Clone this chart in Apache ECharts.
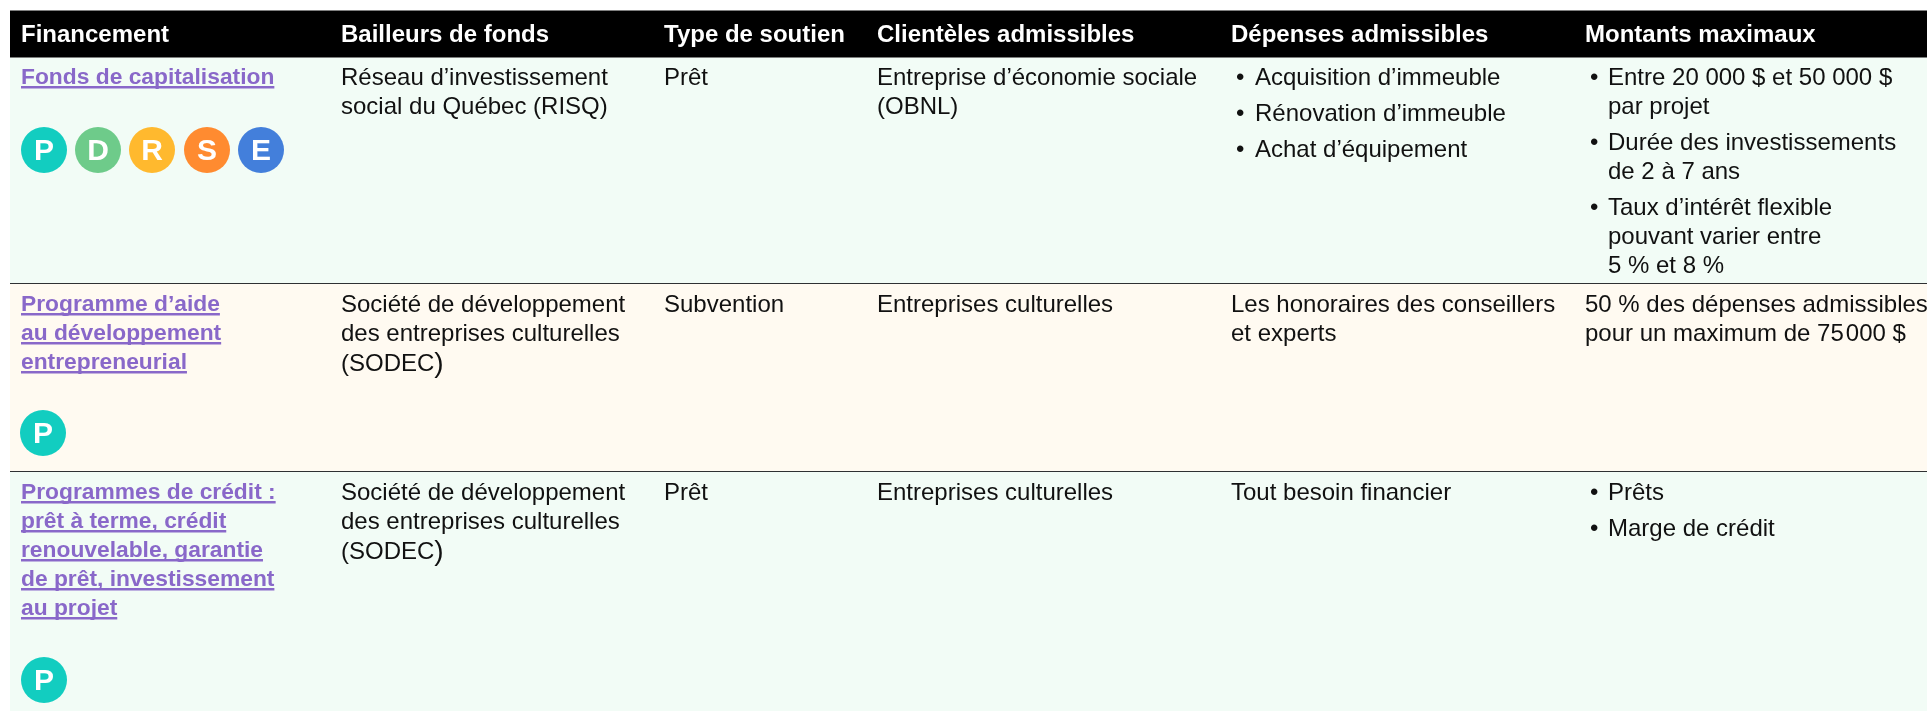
<!DOCTYPE html>
<html lang="fr">
<head>
<meta charset="utf-8">
<title>Financement</title>
<style>
    html, body { margin: 0; padding: 0; background: #fff; }
    #chart { width: 1927px; height: 711px; }
</style>
<script src="https://cdn.jsdelivr.net/npm/echarts@6/dist/echarts.min.js"></script>
</head>
<body>
<div id="chart"></div>
<script>
// table content
const headers = ['Financement', 'Bailleurs de fonds', 'Type de soutien', 'Clientèles admissibles', 'Dépenses admissibles', 'Montants maximaux'];
const financements = [
    ['Fonds de capitalisation'],
    ['Programme d’aide', 'au développement', 'entrepreneurial'],
    ['Programmes de crédit :', 'prêt à terme, crédit', 'renouvelable, garantie', 'de prêt, investissement', 'au projet']
];
const bailleurs = [
    ['Réseau d’investissement', 'social du Québec (RISQ)'],
    ['Société de développement', 'des entreprises culturelles', '(SODEC)'],
    ['Société de développement', 'des entreprises culturelles', '(SODEC)']
];
const soutiens = [['Prêt'], ['Subvention'], ['Prêt']];
const clienteles = [
    ['Entreprise d’économie sociale', '(OBNL)'],
    ['Entreprises culturelles'],
    ['Entreprises culturelles']
];
// bullet lists are arrays of arrays, plain cells are arrays of lines
const depenses = [
    [['Acquisition d’immeuble'], ['Rénovation d’immeuble'], ['Achat d’équipement']],
    ['Les honoraires des conseillers', 'et experts'],
    ['Tout besoin financier']
];
const montants = [
    [['Entre 20 000 $ et 50 000 $', 'par projet'], ['Durée des investissements', 'de 2 à 7 ans'], ['Taux d’intérêt flexible', 'pouvant varier entre', '5 % et 8 %']],
    ['50 % des dépenses admissibles', 'pour un maximum de 75\u200a000 $'],
    [['Prêts'], ['Marge de crédit']]
];
const badgeLetters = [['P', 'D', 'R', 'S', 'E'], ['P'], ['P']];
const badgeColors = { P: '#12cdc0', D: '#6ecb8a', R: '#ffb92e', S: '#ff8b30', E: '#437fdb' };

// layout, in page pixels
const W = 1927, H = 711;
const tableLeft = 10;
const headerTop = 10.5, headerBottom = 57.5;
const rowBottoms = [283, 471, 711];
const rowFills = ['#f2fcf6', '#fffaf1', '#f2fcf6'];
const colX = [21, 341, 664, 877, 1231, 1585];
const bulletGap = { 4: [5, 24], 5: [5, 23] };
const baselines = [85, 312, 500];
const headBaseline = 42;
const toMiddle = 6.4; // baseline to the y of a middle aligned 24px line
const lineH = 29, paraGap = 7;
const badgeX = [[44, 98, 152, 207, 261], [43], [44]];
const badgeY = [150, 433, 680];
const font = '"Liberation Sans", Arial, sans-serif';
const linkFont = 'bold 22.8px ' + font;
const linkColor = '#8968c9';

const columns = [financements, bailleurs, soutiens, clienteles, depenses, montants];

// flatten the cells into one list of text lines
const cells = [];
headers.forEach((h, c) => cells.push({ x: colX[c], y: headBaseline - toMiddle, text: h, kind: 'head' }));
columns.forEach((col, c) => {
    col.forEach((cell, r) => {
        let y = baselines[r] - toMiddle - (c === 0 ? 1 : 0);
        const isList = Array.isArray(cell[0]);
        (isList ? cell : [cell]).forEach(lines => {
            lines.forEach((line, i) => {
                if (isList && i === 0) {
                    cells.push({ x: colX[c] + bulletGap[c][0], y: y, text: '•', kind: 'body' });
                }
                const x = isList ? colX[c] + bulletGap[c][1] : colX[c];
                cells.push({ x: x, y: y, text: line, kind: c === 0 ? 'link' : 'body' });
                y += lineH;
            });
            y += paraGap;
        });
    });
});

const measure = document.createElement('canvas').getContext('2d');
measure.font = linkFont;

function renderBand(params, api) {
    const r = params.dataIndex;
    const top = api.coord([tableLeft, r === 0 ? headerBottom : rowBottoms[r - 1]]);
    const end = api.coord([W, rowBottoms[r]]);
    return {
        type: 'rect',
        shape: { x: top[0], y: top[1], width: end[0] - top[0], height: end[1] - top[1] },
        style: { fill: rowFills[r] }
    };
}

function renderRules(params, api) {
    const a = api.coord([tableLeft, headerTop]);
    const b = api.coord([W, headerBottom]);
    const kids = [{
        type: 'rect',
        shape: { x: a[0], y: a[1], width: b[0] - a[0], height: b[1] - a[1] },
        style: { fill: '#000' }
    }];
    rowBottoms.slice(0, 2).forEach(v => {
        const y = api.coord([tableLeft, v])[1];
        kids.push({
            type: 'rect',
            shape: { x: a[0], y: y, width: b[0] - a[0], height: 1 },
            style: { fill: '#2f3133' }
        });
    });
    return { type: 'group', children: kids };
}

function renderText(params, api) {
    const c = cells[params.dataIndex];
    const p = api.coord([c.x, c.y]);
    let f = '24px ' + font;
    if (c.kind === 'head') f = 'bold 24px ' + font;
    if (c.kind === 'link') f = linkFont;
    const style = {
        text: c.text,
        fill: c.kind === 'head' ? '#fff' : c.kind === 'link' ? linkColor : '#111',
        font: f,
        align: 'left',
        verticalAlign: 'middle'
    };
    let dy = 0;
    if (c.text === '(SODEC)') {
        // the closing bracket is larger in the source
        style.text = '{a|(SODEC}{b|)}';
        style.rich = { a: { font: f }, b: { font: '28px ' + font } };
        dy = 1;
    }
    const kids = [{ type: 'text', x: p[0], y: p[1] + dy, style: style }];
    if (c.kind === 'link') {
        kids.push({
            type: 'rect',
            shape: { x: p[0], y: p[1] + toMiddle + 2, width: measure.measureText(c.text).width, height: 2.5 },
            style: { fill: linkColor }
        });
    }
    return { type: 'group', children: kids };
}

const badgeData = [];
badgeLetters.forEach((row, r) => {
    row.forEach((letter, i) => {
        badgeData.push({
            value: [badgeX[r][i], badgeY[r], letter],
            itemStyle: { color: badgeColors[letter], opacity: 1 }
        });
    });
});

const chart = echarts.init(document.getElementById('chart'), null, { renderer: 'canvas' });
chart.setOption({
    animation: false,
    backgroundColor: '#fff',
    grid: { left: 0, right: 0, top: 0, bottom: 0 },
    xAxis: { type: 'value', min: 0, max: W, show: false },
    yAxis: { type: 'value', min: 0, max: H, inverse: true, show: false },
    series: [
        { type: 'custom', silent: true, clip: false, data: rowBottoms, renderItem: renderBand, encode: { x: -1, y: 0 } },
        { type: 'custom', silent: true, clip: false, data: [0], renderItem: renderRules, encode: { x: -1, y: 0 }, z: 3 },
        { type: 'custom', silent: true, clip: false, data: cells.map(c => [c.x, c.y]), renderItem: renderText, z: 4 },
        {
            type: 'scatter',
            silent: true,
            z: 5,
            symbol: 'circle',
            symbolSize: 46,
            data: badgeData,
            label: {
                show: true,
                position: 'inside',
                offset: [0, 2],
                formatter: p => p.value[2],
                color: '#fff',
                fontFamily: font,
                fontWeight: 'bold',
                fontSize: 30
            }
        }
    ]
});
</script>
</body>
</html>
